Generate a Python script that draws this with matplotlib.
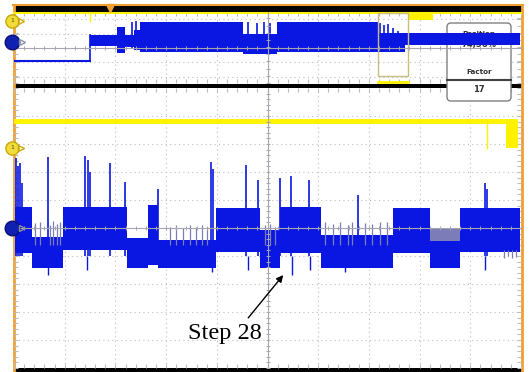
import numpy as np
import matplotlib
matplotlib.use('Agg')
import matplotlib.pyplot as plt
from matplotlib.patches import FancyBboxPatch, Rectangle

BLUE = '#0a16e2'
HAZE = '#7c7cb8'
YELLOW = '#fff200'
ORANGE = '#f0a030'
GRID = '#bdbdbd'
CENTER = '#a6a6b0'

# ---- upper (overview) window, x and y in divisions ----
up_flat_end = 1.50
up_flat_level = -0.90
up_seg_start = [1.50, 2.03, 2.19, 2.37, 2.49, 4.52, 5.19, 7.18, 7.71]
up_seg_end = [2.03, 2.19, 2.37, 2.49, 4.52, 5.19, 7.18, 7.71, 9.98]
up_seg_top = [0.90, 1.46, 0.90, 1.25, 1.81, 0.97, 1.81, 1.04, 1.04]
up_seg_bottom = [0.14, -0.35, 0.07, -0.14, -0.28, -0.42, -0.28, -0.28, 0.21]
up_spike_x = [2.33, 2.41, 4.62, 4.80, 4.93, 5.05, 7.22, 7.30, 7.38, 7.48, 7.58, 7.66]
up_spike_y = [1.80, 1.90, 1.80, 1.75, 1.80, 1.70, 1.74, 1.60, 1.67, 1.39, 1.18, 1.04]
up_yellow_level = 2.43
up_yellow_block = (7.77, 8.26, 1.94, 2.43)
zoom_box = (7.18, 7.77, -1.94, 2.43)

# ---- lower (zoomed) window ----
seg_start = [0.02, 0.36, 0.97, 2.23, 2.64, 2.84, 3.98, 4.85, 5.25, 6.06, 7.48, 8.21, 8.80]
seg_end = [0.36, 0.97, 2.23, 2.64, 2.84, 3.98, 4.85, 5.25, 6.06, 7.48, 8.21, 8.80, 9.98]
seg_top = [0.75, -0.32, 0.75, -0.36, 0.82, -0.43, 0.71, -0.07, 0.75, -0.25, 0.71, -0.04, 0.71]
seg_bottom = [-0.89, -1.43, -0.79, -1.43, -1.32, -1.43, -0.86, -1.43, -0.89, -1.43, -0.89, -1.43, -0.86]

spike_x = [0.04, 0.08, 0.12, 0.16, 0.67, 1.40, 1.46, 1.50, 1.89, 2.19, 2.84,
           3.89, 3.93, 4.58, 4.81, 5.25, 5.46, 5.82, 6.79, 9.29, 9.33]
spike_y = [2.50, 2.20, 2.32, 1.60, 2.54, 2.57, 2.43, 2.00, 2.32, 1.64, 1.39,
           2.36, 2.10, 2.25, 1.71, 1.79, 1.86, 1.71, 1.18, 1.61, 1.40]

down_x = [0.67, 1.44, 3.91, 4.62, 5.48, 5.84, 6.53, 9.29]
down_y = [-1.68, -1.50, -1.57, -1.50, -1.68, -1.50, -1.57, -1.50]

haze_x = [0.41, 0.51, 0.71, 0.77, 0.85, 0.91, 3.08, 3.20, 3.33, 3.47, 3.59, 3.71, 3.81,
          4.95, 5.05, 5.15, 6.13, 6.29, 6.43, 6.59, 6.67, 6.92, 7.06, 7.22, 7.36]
haze_y = [0.18, 0.20, 0.10, 0.25, 0.15, 0.20, 0.05, 0.10, 0.00, 0.12, 0.05, 0.10, 0.04,
          0.10, 0.15, 0.05, 0.20, 0.15, 0.22, 0.10, 0.20, 0.18, 0.15, 0.20, 0.22]
haze_band = (8.21, 8.80, -0.04, -0.45)
tail_x = [9.67, 9.75, 9.83, 9.91]
tail_y = [-1.07, -1.00, -1.07, -1.02]

low_yellow_level = 3.82
low_yellow_end = 9.71
low_yellow_block = (9.71, 9.94, 2.86, 3.90)
low_yellow_spike = (9.33, 2.82)

fig = plt.figure(figsize=(5.31, 3.72), dpi=100)

# screen frame (pixel coordinates)
bg = fig.add_axes([0, 0, 1, 1], zorder=0)
bg.set_xlim(0, 531)
bg.set_ylim(372, 0)
bg.axis('off')
for y0, h in [(6, 6), (83.5, 4.5), (367.5, 4.5)]:
    bg.add_patch(Rectangle((14, y0), 508, h, fc='black', ec='none'))
bg.plot([13, 523], [5, 5], color=ORANGE, lw=1.5)
bg.plot([14, 14], [5, 372], color=ORANGE, lw=2)
bg.plot([522, 522], [5, 372], color=ORANGE, lw=2)

ax2 = fig.add_axes([14 / 531, 4 / 372, 507 / 531, 280 / 372], zorder=1)
ax1 = fig.add_axes([14 / 531, 289 / 372, 507 / 531, 71 / 372], zorder=2)


def style(ax, ylo, yhi, yticks, ystep):
    ax.set_xlim(0, 10)
    ax.set_ylim(ylo, yhi)
    ax.set_facecolor('none')
    for s in ax.spines.values():
        s.set_visible(False)
    ax.set_xticks(range(11))
    ax.set_yticks(yticks)
    ax.set_xticks(np.arange(0, 10.01, 0.2), minor=True)
    ax.set_yticks(np.arange(ylo, yhi + 0.01, ystep), minor=True)
    ax.tick_params(which='both', direction='in', length=3, width=0.8, color=GRID,
                   top=True, right=True, labelbottom=False, labelleft=False)
    ax.grid(True, which='major', color=GRID, linestyle=(0, (1, 3)), linewidth=0.8)
    ax.axhline(0, color=CENTER, lw=0.8, zorder=4)
    ax.axvline(5, color=CENTER, lw=0.8, zorder=4)
    ax.plot(np.arange(0, 10.01, 0.2), np.zeros(51), ls='none', marker='|',
            ms=3.5, mew=0.7, color=CENTER, zorder=4)
    ys = np.arange(ylo, yhi, ystep)
    ax.plot(np.full(len(ys), 5), ys, ls='none', marker='_', ms=3.5, mew=0.7,
            color=CENTER, zorder=4)


style(ax1, -2.45, 2.5, [-2, -1, 1, 2], 0.5)
style(ax2, -5, 5, [-4, -3, -2, -1, 1, 2, 3, 4], 0.2)

# ---- upper window ----
ax1.plot([0, up_flat_end], [up_flat_level, up_flat_level], color=BLUE, lw=1.5, zorder=3)
ax1.plot([up_flat_end, up_flat_end], [up_flat_level, up_seg_top[0]], color=BLUE, lw=1.2, zorder=3)
for s, e, t, b in zip(up_seg_start, up_seg_end, up_seg_top, up_seg_bottom):
    ax1.fill_between([s, e], b, t, color=BLUE, lw=0, zorder=3)
ax1.vlines(up_spike_x, 0, up_spike_y, color=BLUE, lw=1.2, zorder=3)
ax1.plot([0, 10], [up_yellow_level, up_yellow_level], color=YELLOW, lw=1.5, zorder=3, clip_on=False)
ax1.plot([1.50, 1.50], [up_yellow_level, 1.85], color=YELLOW, lw=1, zorder=3)
x0, x1, y0, y1 = up_yellow_block
ax1.fill_between([x0, x1], y0, y1, color=YELLOW, lw=0, zorder=3)
x0, x1, y0, y1 = zoom_box
ax1.add_patch(Rectangle((x0, y0), x1 - x0, y1 - y0, fc='none', ec='#c8bd80', lw=1, zorder=3.5))
ax1.plot([x0, x1], [-2.36, -2.36], color=YELLOW, lw=2, zorder=3.5, clip_on=False)
ax1.plot(1.89, 2.80, marker='v', color=ORANGE, ms=6, clip_on=False, zorder=5)

# info box
box = FancyBboxPatch((447, 23), 64, 78, boxstyle='round,pad=0,rounding_size=4',
                     transform=bg.transData, fc='white', ec='#808080', lw=1,
                     clip_on=False, zorder=2.2)
ax1.add_patch(box)
ax1.plot([447, 511], [80, 80], transform=bg.transData, color='#404040', lw=1.5,
         clip_on=False, zorder=2.3)
for txt, yy, fs in [('Position', 34, 5.2), ('74,56%', 44, 6), ('Factor', 72, 5.2), ('17', 90, 6)]:
    ax1.text(479, yy, txt, transform=bg.transData, ha='center', va='center',
             fontsize=fs, fontweight='bold', color='#303030', zorder=2.4)

# channel markers
for ax, yl, bl in [(ax1, 1.875, 0.42), (ax2, 2.86, 0.0)]:
    ax.plot(-0.04, yl, 'o', ms=9.5, mfc='#f2dc3c', mec='#c8a800', clip_on=False, zorder=6)
    ax.text(-0.04, yl, '1', fontsize=4.5, ha='center', va='center', color='#505000', zorder=7)
    ax.plot(0.14, yl, '>', ms=4, mfc='none', mec='#c8a800', clip_on=False, zorder=6)
    ax.plot(-0.04, bl, 'o', ms=10.5, mfc='#1020b0', mec='#0a1070', clip_on=False, zorder=6)
    ax.plot(0.15, bl, '>', ms=4, mfc='none', mec='#8890a0', clip_on=False, zorder=6)

# ---- lower window ----
for s, e, t, b in zip(seg_start, seg_end, seg_top, seg_bottom):
    ax2.fill_between([s, e], b, t, color=BLUE, lw=0, zorder=3)
ax2.vlines(spike_x, -1, spike_y, color=BLUE, lw=1.2, zorder=3)
ax2.vlines(down_x, -1, down_y, color=BLUE, lw=1, zorder=3)
ax2.vlines(haze_x, -0.6, haze_y, color=HAZE, lw=0.9, zorder=3.2)
x0, x1, t, b = haze_band
ax2.fill_between([x0, x1], b, t, color=HAZE, lw=0, zorder=3.1)
ax2.vlines(tail_x, -0.8, tail_y, color=HAZE, lw=0.9, zorder=3.2)

ax2.plot([0.02, low_yellow_end], [low_yellow_level, low_yellow_level], color=YELLOW, lw=3.5, zorder=3)
x0, x1, y0, y1 = low_yellow_block
ax2.fill_between([x0, x1], y0, y1, color=YELLOW, lw=0, zorder=3)
ax2.vlines(low_yellow_spike[0], low_yellow_spike[1], low_yellow_level, color=YELLOW, lw=1, zorder=3)

ax2.text(3.43, -3.96, 'Step 28', family='Liberation Serif', fontsize=17.5,
         ha='left', va='baseline', color='black', zorder=8)
ax2.annotate('', xy=(5.31, -1.68), xytext=(4.62, -3.21),
             arrowprops=dict(arrowstyle='-|>', color='black', lw=1, mutation_scale=10,
                             shrinkA=0, shrinkB=0), zorder=8)

fig.savefig('out.png', dpi=100)
